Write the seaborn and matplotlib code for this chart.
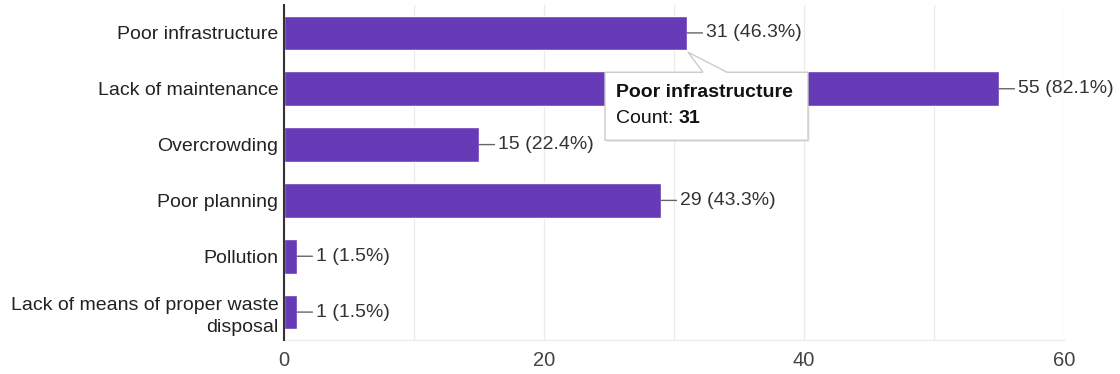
import matplotlib
matplotlib.use("Agg")
import matplotlib.pyplot as plt
import matplotlib.transforms as mtransforms
from matplotlib.patches import Polygon
from matplotlib.ticker import MultipleLocator
import seaborn as sns
import pandas as pd

# Survey responses: problems named by respondents
categories = [
    "Poor infrastructure",
    "Lack of maintenance",
    "Overcrowding",
    "Poor planning",
    "Pollution",
    "Lack of means of proper waste\ndisposal",
]
counts = [31, 55, 15, 29, 1, 1]
respondents = 67
x_ticks = [0, 20, 40, 60]

highlight = "Poor infrastructure"

BAR = "#673ab7"
FONT = "Liberation Sans"
FS = 14

sns.set_theme(style="white")
plt.rcParams["font.family"] = [FONT, "DejaVu Sans"]

df = pd.DataFrame({"category": categories, "count": counts})

fig = plt.figure(figsize=(11.2, 3.74), dpi=100)
ax = fig.add_axes([284 / 1120, 1 - 340 / 374, (1064 - 284) / 1120, 335 / 374])

sns.barplot(data=df, x="count", y="category", color=BAR, saturation=1,
            width=0.62, errorbar=None, ax=ax, zorder=3)

ax.set_xlim(0, 60)
ax.set_ylim(len(categories) - 0.5, -0.5)
ax.xaxis.set_minor_locator(MultipleLocator(10))
ax.set_xticks(x_ticks)
ax.grid(True, axis="x", which="both", color="#ebebeb", lw=1, zorder=0)
ax.set_xlabel("")
ax.set_ylabel("")

for s in ("top", "right"):
    ax.spines[s].set_visible(False)
ax.spines["bottom"].set_color("#ebebeb")
ax.spines["bottom"].set_linewidth(1)
ax.spines["left"].set_color("#333333")
ax.spines["left"].set_linewidth(1.5)
ax.spines["left"].set_zorder(5)

ax.tick_params(axis="x", which="both", length=0, pad=8, labelsize=14.5,
               labelcolor="#444444")
ax.tick_params(axis="y", length=0, pad=4, labelsize=FS, labelcolor="#222222")
for lbl in ax.get_yticklabels():
    lbl.set_multialignment("right")
    lbl.set_linespacing(1.35)

# value labels with a short leader line
for i, v in enumerate(counts):
    pct = 100 * v / respondents
    ax.annotate(f"{v} ({pct:.1f}%)", xy=(v, i), xytext=(13.5, 0),
                textcoords="offset points", ha="left", va="center",
                fontsize=FS, color="#333333", zorder=6,
                arrowprops=dict(arrowstyle="-", color="#666666", lw=1.0,
                                shrinkA=0, shrinkB=0))

# hover tooltip on the highlighted bar
hi = categories.index(highlight)
hv = counts[hi]
anchor = mtransforms.ScaledTranslation(hv, hi + 0.31, ax.transData)
trans = fig.dpi_scale_trans + anchor
px = 1 / 100.0
verts = [(1 * px, -2 * px), (40 * px, -22 * px), (121 * px, -22 * px),
         (121 * px, -90 * px), (-82 * px, -90 * px), (-82 * px, -22 * px),
         (16 * px, -22 * px)]
shadow = Polygon([(x + 1.5 * px, y - 1.5 * px) for x, y in verts], closed=True,
                 transform=trans, facecolor="#000000", alpha=0.10,
                 edgecolor="none", zorder=7, clip_on=False)
box = Polygon(verts, closed=True, transform=trans, facecolor="white",
              edgecolor="#cccccc", lw=1, zorder=8, clip_on=False)
ax.add_patch(shadow)
ax.add_patch(box)

ax.text(-71 * px, -42 * px, highlight, transform=trans, fontsize=FS,
        fontweight="bold", color="#111111", ha="left", va="center", zorder=9)
t_count = ax.text(-71 * px, -68 * px, "Count: ", transform=trans,
                  fontsize=FS, color="#111111", ha="left", va="center",
                  zorder=9)
ax.annotate(str(hv), xy=(1, 0), xycoords=t_count, ha="left", va="bottom",
            fontsize=FS, fontweight="bold", color="#111111", zorder=9)

fig.savefig("out.png", dpi=100)
